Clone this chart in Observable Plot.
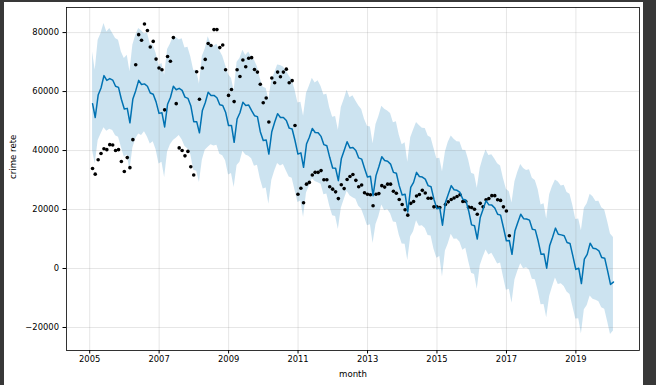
<!DOCTYPE html>
<html>
<head>
<meta charset="utf-8">
<script src="https://cdn.jsdelivr.net/npm/d3@7"></script>
<script src="https://cdn.jsdelivr.net/npm/@observablehq/plot@0.6"></script>
<style>
html,body{margin:0;padding:0;background:#383838;width:656px;height:385px;overflow:hidden;}
#fig{position:absolute;left:4px;top:2px;width:639px;height:383px;background:#ffffff;}
#fig svg{position:absolute;left:0;top:0;}
</style>
</head>
<body>
<div id="fig"></div>
<script>
// First month of the series (dates are month ends)
const firstYear = 2005;

// Observed monthly values, Jan 2005 .. Jan 2017 (null = not visible)
const observed = [
  33900, 32000, 36900, 39000, 40600, 40300, 42000, 41900, 40000, 40300, 36300, 32900,
  37600, 34200, 43700, 69100, 79300, 77400, 82900, 80700, 75100, 77000, 71000, 68000,
  67400, 53800, 71900, 70300, 78300, 55900, 40900, 40000, 38200, 39700, 34500, 31700,
  66700, 57400, 68000, 70900, 76300, 75600, 81000, 81000, 74900, 75800, 67400, 58700,
  60700, 56600, 67400, 65100, 70700, 68400, 71300, 71500, 67500, 66600, 62500, 56200,
  57800, 49700, 64600, 63000, 66600, 65000, 66600, 67600, 63000, 63700, 48500, 25200,
  27200, 22300, 28600, 29200, 31700, 32600, 32600, 33200, 30100, 30100, 27700, 26900,
  26000, 23700, 28400, 27100, 30200, 31200, 31900, 29900, 27700, 28300, 25700, 25200,
  25000, 21300, 25200, 25400, 28100, 27600, 28600, 28600, 26200, 25500, 23400, 21700,
  19900, 18100, 22100, 22700, 24600, 25100, 26500, 25600, 23800, 23800, 20900, 20900,
  20700, null,  21700, 22600, 23400, 23900, 24400, 25000, 22700, 22700, 20800, 20700,
  20100, 18400, 22100, 20900, 23300, 23700, 24700, 24700, 23300, 23100, 20900, 19500,
  11100
];

// Forecast (yhat), Jan 2005 .. Jan 2020
const yhat = [
  55900, 51200, 58800, 61200, 65400, 63800, 64400, 63900, 61800, 61400, 57400, 54100,
  54300, 49400, 57500, 60300, 63800, 62400, 62600, 61800, 59500, 59100, 56500, 52600,
  52800, 48000, 55700, 58000, 61800, 60600, 61100, 60400, 58100, 57700, 55200, 49800,
  49800, 46000, 53600, 56200, 59800, 58700, 58700, 57900, 55500, 55300, 53000, 48500,
  48500, 42800, 50700, 52800, 56400, 55300, 55400, 53500, 51800, 51500, 46400, 43400,
  43600, 38800, 46400, 49600, 52500, 51200, 51200, 50200, 47600, 47300, 43400, 38800,
  39200, 34300, 42200, 44500, 47500, 46100, 46000, 44800, 42000, 41600, 37700, 34100,
  34000, 29800, 37200, 40000, 43000, 40900, 41000, 40000, 37500, 37100, 34000, 31000,
  31300, 24700, 31500, 34500, 37900, 36600, 36400, 35400, 32600, 32300, 28100, 24900,
  25200, 19200, 27500, 29200, 32600, 31200, 31000, 30300, 28100, 27700, 23500, 20300,
  20500, 14700, 22400, 25200, 28100, 26700, 26500, 25800, 23500, 23200, 19600, 14800,
  14500, 10000, 17300, 20100, 23000, 21600, 21500, 20500, 18400, 18100, 13900, 9400,
  9500, 4800, 12700, 15600, 18400, 16900, 16800, 16400, 13300, 13100, 9400, 4800,
  4900, 100, 7700, 10500, 13700, 11600, 11400, 11100, 8800, 8500, 4300, -300,
  100, -5100, 3200, 4800, 8600, 6900, 6700, 6000, 3700, 3500, -700, -5400,
  -4600
];

// Upper bound of the uncertainty band
const yhatUpper = [
  73400, 67200, 77400, 79700, 83100, 80200, 81400, 79700, 78000, 77400, 73400, 71200,
  72300, 66700, 75800, 79000, 81400, 80600, 79500, 79900, 76100, 75700, 73000, 68800,
  69500, 65500, 74300, 76100, 78600, 78300, 77500, 77900, 74800, 75000, 71800, 67100,
  67200, 62600, 72000, 74400, 78600, 76200, 75400, 76000, 73800, 72000, 68900, 65800,
  64400, 60300, 69900, 71200, 74000, 72200, 73400, 71600, 70600, 68300, 64400, 61500,
  61000, 57200, 64000, 66200, 69000, 68800, 68300, 67000, 65300, 63800, 60500, 56100,
  56400, 51600, 59300, 61800, 64500, 62900, 63700, 61700, 58800, 59100, 54500, 51300,
  51500, 46900, 54600, 57300, 60400, 57900, 58600, 56800, 55200, 53900, 50600, 48200,
  48000, 42300, 48800, 51500, 55000, 54000, 53400, 52600, 49400, 49800, 45300, 42000,
  42600, 36000, 44300, 47000, 49500, 48500, 47600, 47500, 44900, 44300, 40800, 37200,
  37400, 32800, 39500, 42800, 44900, 43800, 43000, 42900, 40100, 40000, 36800, 32300,
  31900, 27200, 34000, 37400, 40200, 38300, 38600, 37100, 35500, 34800, 30500, 26900,
  26000, 22200, 29400, 32600, 35300, 33900, 33200, 33500, 30600, 29800, 26800, 21500,
  22000, 16800, 25000, 27800, 30000, 29300, 28000, 28200, 25800, 25200, 21400, 16600,
  16800, 12800, 20400, 22000, 25200, 24300, 22700, 22800, 20600, 19800, 16000, 11700,
  10500
];

// Lower bound of the uncertainty band
const yhatLower = [
  40000, 35400, 43400, 45600, 47700, 46500, 47200, 46800, 45000, 44500, 41100, 37700,
  38500, 33200, 40900, 43900, 45600, 45100, 46400, 44600, 42200, 43000, 40300, 35400,
  36000, 30900, 39500, 42000, 43400, 44200, 45100, 43700, 41400, 40500, 38600, 33300,
  33000, 29200, 36800, 40100, 41100, 42000, 41500, 41800, 38700, 38200, 36500, 31700,
  32200, 27500, 34900, 36000, 39800, 38500, 38100, 37200, 34700, 35000, 30400, 27000,
  27300, 21800, 29800, 33000, 35600, 34800, 35300, 33100, 31000, 30600, 26500, 22400,
  22900, 17300, 25600, 27900, 30400, 29500, 29100, 28600, 25000, 25300, 21200, 17900,
  17600, 13200, 20400, 23300, 26200, 24700, 24000, 23500, 21100, 20100, 17500, 14500,
  14800, 8500, 14900, 17600, 21500, 19600, 20000, 18600, 15800, 15600, 11400, 8300,
  8200, 2700, 10800, 12500, 16200, 14300, 14500, 13600, 11200, 11000, 6600, 3500,
  4100, -2900, 5900, 8400, 11600, 9900, 10000, 8900, 6200, 6900, 2500, -1600,
  -2000, -7000, 900, 3700, 6300, 4600, 5200, 3400, 1500, 1900, -2800, -7400,
  -7000, -11800, -3900, -900, 1600, -100, 300, -600, -3600, -3800, -7500, -12300,
  -12200, -16700, -9500, -6300, -3200, -5400, -5200, -6100, -8000, -8800, -12900, -17100,
  -17000, -22200, -14000, -12500, -9300, -10400, -10800, -11300, -13300, -13800, -17900, -22400,
  -21200
];

// Axis ticks
const xTickYears = [2005, 2007, 2009, 2011, 2013, 2015, 2017, 2019];
const yTickValues = [-20000, 0, 20000, 40000, 60000, 80000];
const xLabel = "month";
const yLabel = "crime rete";

// Build tables
const monthEnd = i => new Date(Date.UTC(firstYear, i + 1, 0));
const history = observed.map((v, i) => ({date: monthEnd(i), y: v})).filter(d => d.y != null);
const forecast = yhat.map((v, i) => ({date: monthEnd(i), yhat: v, lower: yhatLower[i], upper: yhatUpper[i]}));
const xTicks = xTickYears.map(y => new Date(Date.UTC(y, 0, 1)));

const fmtY = d => d < 0 ? "\u2212" + Math.abs(d) : String(d);

const chart = Plot.plot({
  width: 639,
  height: 383,
  marginLeft: 62,
  marginTop: 5,
  marginRight: 4,
  marginBottom: 35,
  style: {fontFamily: "'DejaVu Sans', sans-serif", fontSize: "8.4px", background: "transparent", color: "#000"},
  x: {type: "utc", domain: [new Date("2004-05-02T00:00:00Z"), new Date("2020-10-31T00:00:00Z")]},
  y: {domain: [-27800, 88500]},
  marks: [
    Plot.areaY(forecast, {x: "date", y1: "lower", y2: "upper", fill: "#0072B2", fillOpacity: 0.2}),
    Plot.gridX(xTicks, {stroke: "gray", strokeOpacity: 0.2, strokeWidth: 1}),
    Plot.gridY(yTickValues, {stroke: "gray", strokeOpacity: 0.2, strokeWidth: 1}),
    Plot.dot(history, {x: "date", y: "y", r: 1.8, fill: "black", stroke: "none"}),
    Plot.line(forecast, {x: "date", y: "yhat", stroke: "#0072B2", strokeWidth: 1.5}),
    Plot.frame({stroke: "black", strokeWidth: 0.8}),
    Plot.axisX(xTicks, {tickFormat: d3.utcFormat("%Y"), tickSize: 3.5, tickPadding: 2.5, label: null}),
    Plot.axisY(yTickValues, {tickFormat: fmtY, tickSize: 3.5, tickPadding: 4, label: null}),
    Plot.text([xLabel], {frameAnchor: "bottom", dy: 24, lineAnchor: "middle", fontSize: 8.6}),
    Plot.text([yLabel], {frameAnchor: "left", dx: -53.5, rotate: -90, lineAnchor: "middle", fontSize: 8.6})
  ]
});
document.getElementById("fig").appendChild(chart);
</script>
</body>
</html>
